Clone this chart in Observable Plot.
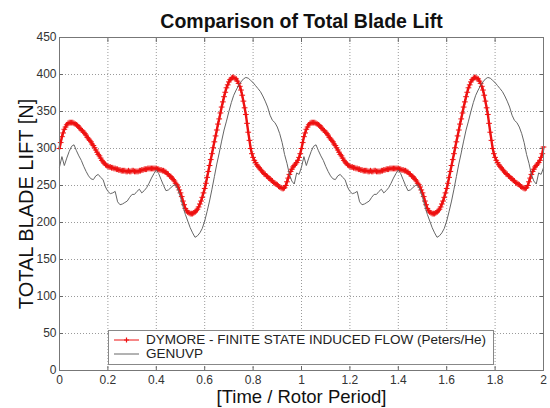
<!DOCTYPE html>
<html>
<head>
<meta charset="utf-8">
<script src="https://cdn.jsdelivr.net/npm/d3@7"></script>
<script src="https://cdn.jsdelivr.net/npm/@observablehq/plot@0.6"></script>
<style>
  html, body { margin: 0; padding: 0; background: #fff; }
  #wrap { position: relative; width: 550px; height: 408px; font-family: 'Liberation Sans', Arial, sans-serif; }
  #legend { position: absolute; left: 108px; top: 330px; width: 386px; height: 35px; border: 1px solid #888; background: #fff; box-sizing: border-box; }
  #legend .row { position: absolute; left: 0; height: 14px; font-size: 13.5px; color: #222; white-space: nowrap; }
  #legend svg { position: absolute; left: 4px; top: 0; }
  #legend span { position: absolute; left: 37px; top: -1px; line-height: 16px; }
</style>
</head>
<body>
<div id="wrap">
  <div id="chart"></div>
  <div id="legend"></div>
</div>
<script>
// ---- data ----
const titleText = "Comparison of Total Blade Lift";
const xLabelText = "[Time / Rotor Period]";
const yLabelText = "TOTAL BLADE LIFT [N]";
const seriesNames = ["DYMORE - FINITE STATE INDUCED FLOW (Peters/He)", "GENUVP"];

const xTicks = [0, 0.2, 0.4, 0.6, 0.8, 1, 1.2, 1.4, 1.6, 1.8, 2];
const xTickLabels = ["0", "0.2", "0.4", "0.6", "0.8", "1", "1.2", "1.4", "1.6", "1.8", "2"];
const yTicks = [0, 50, 100, 150, 200, 250, 300, 350, 400, 450];
const yTickLabels = ["0", "50", "100", "150", "200", "250", "300", "350", "400", "450"];

// DYMORE, one rotor period sampled every 0.005 (the chart shows two identical periods)
const dymoreStep = 0.005;
const dymorePeriod = [
  300,308,316,321,326,329,332,334,335,335,
  335,335,334,333,332,331,329,327,325,324,
  322,320,318,315,313,311,309,306,304,301,
  298,295,292,290,287,284,282,280,278,277,
  276,275,275,274,274,273,273,272,272,271,
  271,270,270,270,270,269,269,270,269,269,
  270,270,269,269,269,269,270,270,271,271,
  272,272,272,273,273,273,273,273,273,273,
  273,272,272,271,271,270,270,269,268,266,
  265,263,262,260,258,256,253,251,248,244,
  240,235,229,224,219,216,214,213,212,212,
  212,213,214,216,218,221,225,229,234,240,
  246,253,261,269,277,285,293,301,309,317,
  325,333,340,348,356,363,370,376,382,386,
  390,393,395,396,396,395,394,391,388,384,
  379,372,364,355,346,334,322,311,300,293,
  288,284,281,278,276,274,272,270,268,266,
  265,263,262,260,259,257,256,254,253,252,
  251,249,248,247,246,246,247,250,255,260,
  265,269,272,275,277,279,281,284,288,293
];
const dymoreEnd = 302;

// GENUVP, one rotor period sampled every 0.01
const genuvpStep = 0.01;
const genuvpPeriod = [
  275,289,277,287,296,303,305,297,290,284,
  276,269,263,259,258,263,265,261,258,248,
  242,239,240,242,228,224,225,227,229,234,
  238,238,242,245,240,243,247,253,260,266,
  271,266,258,250,243,244,247,250,251,244,
  234,222,211,202,193,186,180,182,186,192,
  202,215,229,245,262,279,294,310,325,337,
  350,362,372,379,385,390,394,396,395,392,
  389,385,381,377,371,364,356,345,338,335,
  329,320,308,292,280,265,256,252,267,265
];
const genuvpEnd = 274;

// ---- build tables ----
const dymoreValues = [...dymorePeriod, ...dymorePeriod, dymoreEnd];
const dymore = dymoreValues.map((v, i) => ({t: i * dymoreStep, v}));
const genuvpValues = [...genuvpPeriod, ...genuvpPeriod, genuvpEnd];
const genuvp = genuvpValues.map((v, i) => ({t: i * genuvpStep, v}));

const font = "'Liberation Sans', Arial, sans-serif";
const redColor = "#ee1111";
const grayColor = "#666666";

const chart = Plot.plot({
  width: 550,
  height: 408,
  marginLeft: 59,
  marginRight: 7,
  marginTop: 37,
  marginBottom: 38,
  style: {fontFamily: font, background: "#fff", overflow: "visible"},
  x: {domain: [0, 2]},
  y: {domain: [0, 450]},
  marks: [
    Plot.gridX(xTicks, {stroke: "#9a9a9a", strokeOpacity: 1, strokeDasharray: "1,2"}),
    Plot.gridY(yTicks, {stroke: "#9a9a9a", strokeOpacity: 1, strokeDasharray: "1,2"}),
    Plot.axisX(xTicks, {anchor: "bottom", tickSize: 0, tickPadding: 5, label: null,
      tickFormat: (d, i) => xTickLabels[i], fontSize: 12, fill: "#333"}),
    Plot.axisY(yTicks, {anchor: "left", tickSize: 0, tickPadding: 3, label: null,
      tickFormat: (d, i) => yTickLabels[i], fontSize: 12, fill: "#333"}),
    Plot.axisX(xTicks, {anchor: "bottom", tickSize: -4, tickFormat: () => "", label: null, stroke: "#666"}),
    Plot.axisX(xTicks, {anchor: "top", tickSize: -4, tickFormat: () => "", label: null, stroke: "#666"}),
    Plot.axisY(yTicks, {anchor: "left", tickSize: -4, tickFormat: () => "", label: null, stroke: "#666"}),
    Plot.axisY(yTicks, {anchor: "right", tickSize: -4, tickFormat: () => "", label: null, stroke: "#666"}),
    Plot.line(dymore, {x: "t", y: "v", stroke: redColor, strokeWidth: 2.4}),
    Plot.dot(dymore, {x: "t", y: "v", symbol: "plus", r: 2, stroke: redColor, strokeWidth: 1}),
    Plot.line(genuvp, {x: "t", y: "v", stroke: grayColor, strokeWidth: 1}),
    Plot.frame({stroke: "#777"}),
    Plot.text([titleText], {frameAnchor: "top", textAnchor: "middle", lineAnchor: "middle", dy: -16,
      fontSize: 19.5, fontWeight: "bold", fill: "#111"}),
    Plot.text([xLabelText], {frameAnchor: "bottom", textAnchor: "middle", lineAnchor: "middle", dy: 27,
      fontSize: 18.5, fill: "#111"}),
    Plot.text([yLabelText], {frameAnchor: "left", textAnchor: "middle", lineAnchor: "middle", rotate: -90, dx: -33,
      fontSize: 20, fill: "#111"})
  ]
});
document.getElementById("chart").appendChild(chart);

// ---- legend ----
const legend = document.getElementById("legend");
const rows = [
  {name: seriesNames[0], color: redColor, marker: true, top: 2},
  {name: seriesNames[1], color: grayColor, marker: false, top: 16}
];
for (const r of rows) {
  const row = document.createElement("div");
  row.className = "row";
  row.style.top = r.top + "px";
  row.style.width = "380px";
  const ns = "http://www.w3.org/2000/svg";
  const svg = document.createElementNS(ns, "svg");
  svg.setAttribute("width", "28");
  svg.setAttribute("height", "14");
  const ln = document.createElementNS(ns, "line");
  ln.setAttribute("x1", "1"); ln.setAttribute("x2", "26");
  ln.setAttribute("y1", "7"); ln.setAttribute("y2", "7");
  ln.setAttribute("stroke", r.color);
  ln.setAttribute("stroke-width", "1");
  svg.appendChild(ln);
  if (r.marker) {
    const p = document.createElementNS(ns, "path");
    p.setAttribute("d", "M13.5,4.5V9.5M11,7H16");
    p.setAttribute("stroke", r.color);
    p.setAttribute("stroke-width", "1.2");
    svg.appendChild(p);
  }
  row.appendChild(svg);
  const sp = document.createElement("span");
  sp.textContent = r.name;
  row.appendChild(sp);
  legend.appendChild(row);
}
</script>
</body>
</html>
